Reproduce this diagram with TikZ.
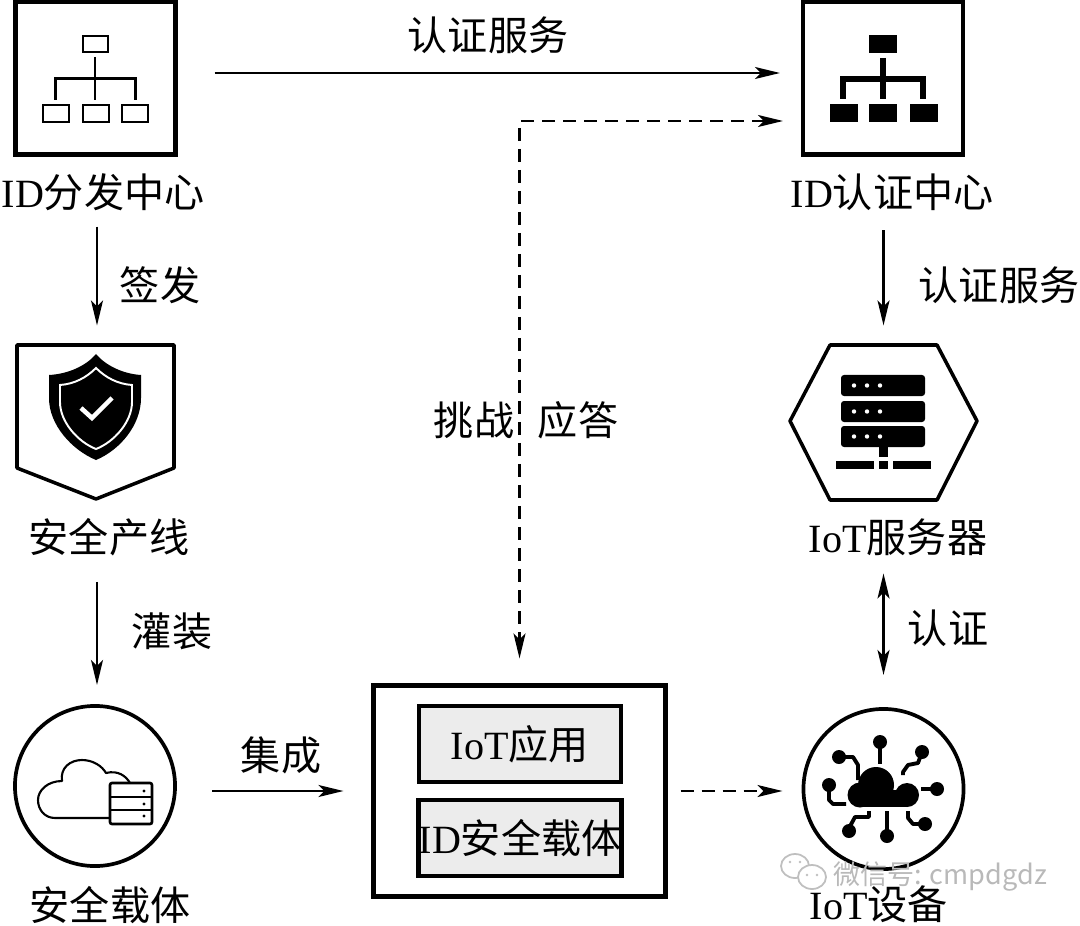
\documentclass[tikz,border=0pt]{standalone}
\usepackage{fontspec}
\setmainfont{Liberation Serif}
\newfontfamily\zhfont{Noto Sans CJK SC}
\usetikzlibrary{shapes.geometric, arrows.meta, calc}
\newcommand{\zh}[1]{{\zhfont #1}}
\tikzstyle{arrow} = [line width=0.6pt,-{Stealth[length=0.25cm,width=0.12cm,inset=0.06cm]}]
\tikzstyle{twoway} = [line width=0.6pt,{Stealth[length=0.25cm,width=0.12cm,inset=0.06cm]}-{Stealth[length=0.25cm,width=0.12cm,inset=0.06cm]}]
\tikzstyle{dasharrow} = [arrow,dash pattern=on 0.13cm off 0.08cm]
\tikzstyle{dashtwoway} = [twoway,dash pattern=on 0.13cm off 0.08cm]
\tikzstyle{iconbox} = [draw,line width=1.2pt,minimum width=1.6cm,minimum height=1.53cm]
\tikzstyle{iconround} = [draw,circle,line width=1.05pt,minimum size=1.6cm]
\tikzstyle{ghost} = [minimum width=1.57cm,minimum height=1.55cm]
\tikzstyle{inbox} = [draw,line width=1.25pt,fill=gray!15,minimum width=2.02cm,minimum height=0.76cm]
\tikzstyle{tree} = [line width=1.6pt]
\begin{document}
\begin{tikzpicture}[every node/.style={font=\fontsize{11.4}{13}\selectfont, inner sep=0pt, outer sep=0pt}, x=0.01cm, y=-0.01cm]
        \useasboundingbox (0,0) rectangle (1080,925);

        % Node positions
        \node[iconbox] (DIST) at (95.5,78) {};
        \node[iconbox] (AUTH) at (883,78) {};
        \node[ghost] (SAFE) at (97,422) {};
        \node[ghost] (SERV) at (883.5,422) {};
        \node[iconround] (CARR) at (95,786) {};
        \node[iconround] (DEV) at (883.5,789) {};
        \node[draw,line width=1.25pt,minimum width=2.92cm,minimum height=2.11cm] (APP) at (519.5,791) {};
        \node[inbox] (IOTA) at (520,744) {IoT\zh{应用}};
        \node[inbox] (IDC) at (520,838) {ID\zh{安全载体}};

        % Captions
        \node (DISTL) at (103,192) {ID\zh{分发中心}};
        \node (AUTHL) at (892,192) {ID\zh{认证中心}};
        \node (SAFEL) at (109,537) {\zh{安全产线}};
        \node (SERVL) at (898,537) {IoT\zh{服务器}};
        \node (CARRL) at (110,905) {\zh{安全载体}};
        \node (DEVL) at (879,904) {IoT\zh{设备}};
        \node (T1) at (488,35) {\zh{认证服务}};
        \node (T2) at (160,285) {\zh{签发}};
        \node (T3) at (999,285) {\zh{认证服务}};
        \node (T4) at (474,420) {\zh{挑战}};
        \node (T5) at (578,420) {\zh{应答}};
        \node (T6) at (172,631) {\zh{灌装}};
        \node (T7) at (948,628) {\zh{认证}};
        \node (T8) at (281,755) {\zh{集成}};

        % Connectors
        \draw[arrow,shorten <=0.39cm,shorten >=0.23cm] ($(DIST.east)+(0,-5)$) -- ($(AUTH.west)+(0,-5)$);
        \draw[dashtwoway,shorten <=0.2cm,shorten >=0.27cm] ($(AUTH.west)+(0,43)$) -| (APP.north);
        \draw[arrow,shorten <=0.16cm,shorten >=0.19cm] (DISTL.south -| SAFE.north) -- (SAFE.north);
        \draw[arrow,shorten <=0.26cm,shorten >=0.21cm] (SAFEL.south -| SAFE.north) -- (SAFE.north |- CARR.north);
        \draw[arrow,shorten <=0.2cm,shorten >=0.19cm] (AUTHL.south -| SERV.north) -- (SERV.north);
        \draw[twoway,shorten <=0.18cm,shorten >=0.34cm] (SERVL.south -| DEV.north) -- (DEV.north);
        \draw[arrow,shorten <=0.37cm,shorten >=0.3cm] ($(CARR.east)+(0,5)$) -- (APP.west);
        \draw[dasharrow,shorten <=0.15cm,shorten >=0.21cm] (APP.east) -- (DEV.west |- APP.east);

        % Light tree
        \draw[line width=0.8pt] (83,36) rectangle (108,52);
        \foreach \x in {43,83,122} \draw[line width=0.8pt] (\x,105) rectangle (\x+26,122);
        \draw[line width=0.8pt] (95,57) -- (95,100) (55.5,100) -- (55.5,78.5) -- (135.5,78.5) -- (135.5,100);

        % Dark tree
        \fill (869,35) rectangle (897,53);
        \foreach \x in {830,869,910} \fill (\x,104) rectangle (\x+27.5,122);
        \draw[tree] (883,58) -- (883,99) (843,99) -- (843,79) -- (923,79) -- (923,99);

        % Shield outline and icon
        \draw[line width=1pt,line join=round] (17,345) -- (174,345) -- (174,468) -- (96,499) -- (17,468) -- cycle;
        \fill[line join=round] (96,354) .. controls (106,366) and (124,374) .. (141,375) -- (141,398) .. controls (141,425) and (120,450) .. (96,460) .. controls (72,450) and (49,425) .. (49,398) -- (49,375) .. controls (68,374) and (86,366) .. (96,354) -- cycle;
        \draw[white,line width=0.55pt] (96,368) .. controls (106,378) and (118,384) .. (132,385) -- (132,402) .. controls (132,422) and (114,442) .. (96,449) .. controls (78,442) and (60,422) .. (60,402) -- (60,385) .. controls (74,384) and (86,378) .. (96,368) -- cycle;
        \draw[white,line width=1.3pt] (81,408) -- (92,418) -- (112,398);

        % Hexagon and server
        \draw[line width=1pt,line join=round] (790,421) -- (830,345) -- (937,345) -- (977,421) -- (937,500) -- (830,500) -- cycle;
        \foreach \y in {375,401,426} {
          \fill[rounded corners=0.03cm] (841,\y) rectangle (925,\y+21);
          \foreach \x in {854,867,880} \fill[white] (\x,\y+10.5) circle[radius=2.2];
        }
        \fill (879,447) rectangle (888,457);
        \fill (836,461) rectangle (874,469);
        \fill (879,461) rectangle (888,469);
        \fill (893,461) rectangle (931,469);

        % Cloud and storage
        \draw[line width=0.6pt,line join=round] (110,818) -- (55,818) .. controls (45,818) and (38,810) .. (38,800) .. controls (38,790) and (48,781) .. (62,781) .. controls (60,768) and (70,760) .. (82,760) .. controls (93,760) and (102,766) .. (106,773) .. controls (118,770) and (126,776) .. (130,783);
        \draw[line width=0.75pt,rounded corners=0.02cm] (110,783) rectangle (152,824);
        \draw[line width=0.75pt] (110,797) -- (152,797) (110,810) -- (152,810);
        \foreach \y in {791,804,816} \fill (144,\y) circle[radius=1.7];

        % Connected cloud
        \fill (860,795) circle[radius=12.5];
        \fill (876,785) circle[radius=18];
        \fill (907,795) circle[radius=12];
        \fill (860,790) rectangle (907,807);
        \foreach \px/\py in {880/742,922/752,937/789,925/824,887/836,849/831,829/785,839/757} \fill (\px,\py) circle[radius=7];
        \draw[line width=1.1pt,line join=round] (880,742) -- (880,764);
        \draw[line width=1.1pt,line join=round] (922,752) -- (918,763) -- (908,765) -- (903,772) -- (903,775);
        \draw[line width=1.1pt] (937,789) -- (921,789);
        \draw[line width=1.1pt,line join=round] (908,811) -- (908,818) -- (913,824) -- (925,824);
        \draw[line width=1.1pt] (887,836) -- (887,811);
        \draw[line width=1.1pt,line join=round] (869,811) -- (869,817) -- (855,817) -- (849,828);
        \draw[line width=1.1pt,line join=round] (829,785) -- (829,800) -- (833,804) -- (846,804);
        \draw[line width=1.1pt,line join=round] (839,757) -- (853,757) -- (858,765) -- (858,780);

        % Watermark
        \draw[gray!50,fill=white,line width=0.5pt] (795,866) ellipse (14 and 12);
        \draw[gray!50,fill=white,line width=0.5pt] (812,877) ellipse (14 and 12);
        \foreach \px/\py in {790/862,800/862,807/875,817/875} \fill[gray!50] (\px,\py) circle[radius=1.3];
        \node[text=gray!55,font=\fontsize{7.7}{9}\selectfont] (MARK) at (940,876) {\zh{微信号: cmpdgdz}};
\end{tikzpicture}
\end{document}
